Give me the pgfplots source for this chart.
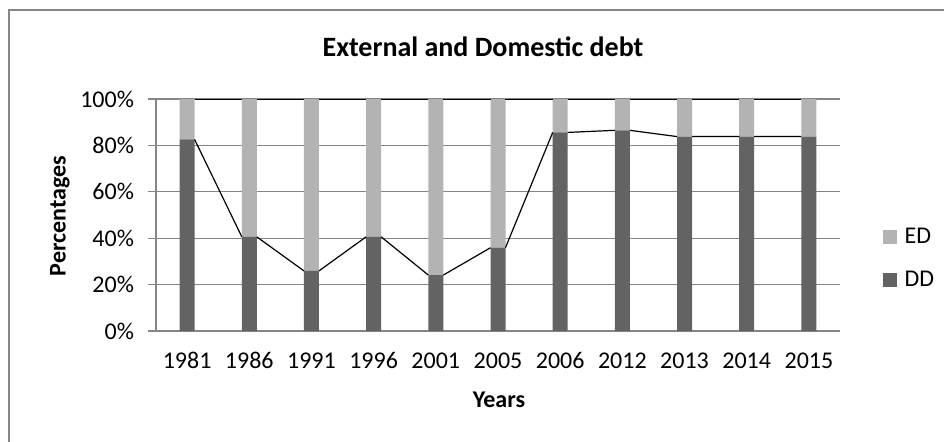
\documentclass[border=0pt]{standalone}
\usepackage{pgfplots}
\pgfplotsset{compat=1.18}
\usepackage{fontspec}
\setmainfont{Carlito}
\definecolor{dd}{RGB}{99,99,99}
\definecolor{ed}{RGB}{179,179,179}
\definecolor{gridc}{RGB}{134,134,134}
\begin{document}
\begin{tikzpicture}
\useasboundingbox (0pt,0pt) rectangle (472pt,220.5pt);
\fill[white] (0pt,0pt) rectangle (472pt,220.5pt);
\draw[gridc, line width=1pt] (4.5pt,-10pt) -- (4.5pt,215.5pt) -- (490pt,215.5pt);
\pgfplotsset{common/.style={at={(78pt,55pt)}, anchor=south west, width=342pt, height=116pt, scale only axis,
  xmin=-0.5, xmax=10.5, ymin=0, ymax=100}}
\begin{axis}[common, ybar stacked, bar width=7.5pt,
  axis x line*=bottom, axis y line*=left, axis line style={gridc, line width=0.6pt, -},
  ytick={0,20,...,100}, ymajorgrids, grid style={gridc, line width=0.6pt},
  yticklabel={\pgfmathprintnumber{\tick}\%},
  tick align=outside, major tick length=4pt,
  y tick style={gridc, line width=0.6pt},
  x tick style={draw=none},
  xtick={0,...,10},
  xticklabels={1981,1986,1991,1996,2001,2005,2006,2012,2013,2014,2015},
  tick label style={font=\fontsize{12}{14}\selectfont},
  /pgf/number format/assume math mode=true,
  yticklabel style={xshift=-3.5pt},
  xticklabel style={text height=8.5pt, text depth=0pt, yshift=-2.5pt},
  reverse legend,
  legend style={at={(1.053,0.3125)}, anchor=west, draw=none, fill=none,
    font=\fontsize{12}{14}\selectfont, row sep=7pt,
    nodes={text height=8.5pt, text depth=2pt, inner sep=2pt}},
  legend cell align=left,
  legend image code/.code={\fill[#1] (0pt,-3.5pt) rectangle (7pt,3.5pt);},
]
\addplot[fill=dd, draw=none] coordinates {(0,82.6) (1,40.6) (2,25.9) (3,40.6) (4,24.1) (5,35.9) (6,85.6) (7,86.5) (8,83.8) (9,83.8) (10,83.8)};
\addlegendentry{\hspace{2pt}DD}
\addplot[fill=ed, draw=none] coordinates {(0,17.4) (1,59.4) (2,74.1) (3,59.4) (4,75.9) (5,64.1) (6,14.4) (7,13.5) (8,16.2) (9,16.2) (10,16.2)};
\addlegendentry{\hspace{2pt}ED}
\end{axis}
\begin{axis}[common, hide axis, unbounded coords=jump]
\addplot[black, line width=0.6pt] coordinates {
(0.12,82.6) (0.88,40.6) (1,nan)
(1.12,40.6) (1.88,25.9) (2,nan)
(2.12,25.9) (2.88,40.6) (3,nan)
(3.12,40.6) (3.88,24.1) (4,nan)
(4.12,24.1) (4.88,35.9) (5,nan)
(5.12,35.9) (5.88,85.6) (6,nan)
(6.12,85.6) (6.88,86.5) (7,nan)
(7.12,86.5) (7.88,83.8) (8,nan)
(8.12,83.8) (8.88,83.8) (9,nan)
(9.12,83.8) (9.88,83.8)};
\addplot[black, line width=0.8pt] coordinates {
(0.12,100) (0.88,100) (1,nan)
(1.12,100) (1.88,100) (2,nan)
(2.12,100) (2.88,100) (3,nan)
(3.12,100) (3.88,100) (4,nan)
(4.12,100) (4.88,100) (5,nan)
(5.12,100) (5.88,100) (6,nan)
(6.12,100) (6.88,100) (7,nan)
(7.12,100) (7.88,100) (8,nan)
(8.12,100) (8.88,100) (9,nan)
(9.12,100) (9.88,100)};
\end{axis}
\node[font=\fontsize{14}{16}\selectfont\bfseries, anchor=base] at (241.5pt,192.5pt) {External and Domestic debt};
\node[font=\fontsize{12}{14}\selectfont\bfseries, rotate=90] at (30pt,112.5pt) {Percentages};
\node[font=\fontsize{12}{14}\selectfont\bfseries, anchor=base] at (249.5pt,17pt) {Years};
\end{tikzpicture}
\end{document}
